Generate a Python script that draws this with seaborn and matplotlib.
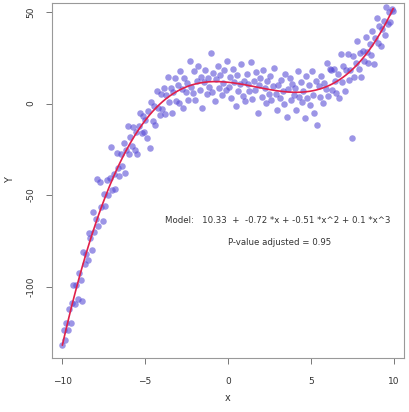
import matplotlib
matplotlib.use("Agg")
import matplotlib.pyplot as plt
import numpy as np
import pandas as pd
import seaborn as sns

# points (x, Y)
x_vals = [
    -9.98, -9.9, -9.83, -9.74, -9.66, -9.57, -9.47, -9.4, -9.31, -9.23, -9.14, -9.06,
    -8.97, -8.88, -8.8, -8.71, -8.62, -8.54, -8.46, -8.39, -8.3, -8.22, -8.13, -8.05,
    -7.97, -7.9, -7.81, -7.72, -7.64, -7.55, -7.47, -7.39, -7.3, -7.22, -7.13, -7.04,
    -6.97, -6.88, -6.8, -6.71, -6.62, -6.54, -6.46, -6.38, -6.29, -6.21, -6.12, -6.04,
    -5.96, -5.88, -5.79, -5.71, -5.62, -5.54, -5.47, -5.38, -5.3, -5.21, -5.12, -5.04,
    -4.97, -4.88, -4.8, -4.71, -4.62, -4.54, -4.46, -4.38, -4.29, -4.21, -4.12, -4.04,
    -3.96, -3.88, -3.79, -3.71, -3.62, -3.54, -3.46, -3.38, -3.29, -3.21, -3.12, -3.04,
    -2.96, -2.88, -2.79, -2.71, -2.62, -2.54, -2.46, -2.38, -2.29, -2.21, -2.12, -2.04,
    -1.96, -1.88, -1.79, -1.71, -1.62, -1.54, -1.46, -1.38, -1.29, -1.21, -1.12, -1.04,
    -0.96, -0.88, -0.79, -0.71, -0.62, -0.54, -0.46, -0.38, -0.29, -0.21, -0.12, -0.04,
    0.04, 0.12, 0.21, 0.29, 0.38, 0.46, 0.54, 0.62, 0.71, 0.79, 0.88, 0.96,
    1.04, 1.12, 1.21, 1.29, 1.38, 1.46, 1.54, 1.62, 1.71, 1.79, 1.88, 1.96,
    2.04, 2.12, 2.21, 2.29, 2.38, 2.46, 2.54, 2.62, 2.71, 2.79, 2.88, 2.96,
    3.04, 3.12, 3.21, 3.29, 3.38, 3.46, 3.54, 3.62, 3.71, 3.79, 3.88, 3.96,
    4.04, 4.12, 4.21, 4.29, 4.38, 4.46, 4.54, 4.62, 4.71, 4.79, 4.88, 4.96,
    5.04, 5.12, 5.21, 5.29, 5.38, 5.46, 5.54, 5.62, 5.71, 5.79, 5.88, 5.96,
    6.04, 6.12, 6.21, 6.29, 6.38, 6.46, 6.54, 6.62, 6.71, 6.79, 6.88, 6.96,
    7.04, 7.12, 7.21, 7.29, 7.38, 7.46, 7.54, 7.62, 7.71, 7.79, 7.88, 7.96,
    8.04, 8.12, 8.21, 8.29, 8.38, 8.46, 8.54, 8.62, 8.71, 8.79, 8.88, 8.96,
    9.04, 9.12, 9.21, 9.29, 9.38, 9.46, 9.54, 9.62, 9.71, 9.79, 9.88, 9.96,
]
y_vals = [
    -131.7, -123.7, -129.0, -119.6, -123.6, -112.2, -119.6, -109.2, -99.1, -109.3, -99.2, -106.5,
    -92.5, -96.6, -108.1, -81.3, -87.5, -82.1, -85.7, -70.7, -73.2, -79.9, -59.4, -70.2,
    -63.0, -41.2, -67.0, -42.7, -56.7, -64.4, -49.5, -55.7, -41.7, -49.9, -40.9, -23.8,
    -47.3, -38.5, -46.9, -27.2, -35.4, -39.8, -27.3, -33.9, -21.3, -37.9, -25.4, -12.0,
    -27.7, -18.5, -23.1, -12.9, -25.6, -15.4, -27.4, -12.2, -5.2, -16.0, -6.9, -15.8,
    -9.0, -19.0, -4.1, -24.2, 0.8, -9.3, -1.5, -11.8, 7.0, -2.3, -6.5, 5.3,
    -3.1, 8.5, -5.8, 4.8, 14.4, 1.0, 8.5, -5.0, 6.5, 14.0, 1.5, 10.0,
    0.4, 17.7, 8.1, -2.5, 13.9, 6.2, 11.5, 1.8, 23.0, 9.3, 5.6, 17.8,
    2.0, 12.2, 20.3, 7.5, 14.7, -2.2, 12.0, 18.1, 5.2, 14.2, 9.3, 27.4,
    6.5, 16.5, 1.5, 13.5, 20.6, 8.6, 15.6, 4.5, 11.5, 18.5, 7.4, 23.4,
    9.3, 14.3, 3.2, 19.1, 12.0, -1.1, 15.8, 6.7, 10.6, 21.5, 4.4, 12.3,
    1.2, 16.0, 10.9, 6.8, 22.6, 2.5, 12.4, 7.3, 17.1, -5.0, 9.9, 13.7,
    3.6, 18.5, 8.3, 0.2, 12.1, 5.0, 14.9, 1.8, 9.7, 19.6, 5.4, -3.7,
    10.3, 3.2, 13.1, 7.1, 0.0, 15.9, -7.2, 7.8, 13.8, 1.8, 10.7, 4.7,
    8.7, -3.3, 17.8, 3.8, 11.8, 0.9, 6.9, -8.0, 15.1, 3.2, 10.3, -0.6,
    17.6, 4.8, -5.1, 12.1, -11.7, 9.5, 3.7, 14.9, 0.3, 11.5, 7.9, 22.1,
    4.4, 18.8, 18.2, 7.6, 19.0, 12.4, 5.8, 16.3, 2.8, 27.3, 11.9, 20.4,
    6.9, 18.5, 27.2, 12.8, 18.5, -18.9, 25.8, 14.6, 22.4, 34.2, 19.0, 27.8,
    14.6, 28.5, 23.5, 36.4, 28.4, 22.3, 32.3, 26.4, 39.6, 21.6, 35.8, 46.9,
    33.1, 42.3, 31.7, 41.0, 45.3, 37.6, 52.9, 43.3, 49.9, 44.3, 51.9, 50.3,
]

x_ticks = [-10, -5, 0, 5, 10]
y_ticks = [-100, -50, 0, 50]
model_text = "Model:   10.33  +  -0.72 *x + -0.51 *x^2 + 0.1 *x^3"
stat_text = "P-value adjusted = 0.95"

df = pd.DataFrame({"x": x_vals, "Y": y_vals})

sns.set_style("white")
plt.rcParams["font.family"] = ["DejaVu Sans"]

fig = plt.figure(figsize=(4.1, 4.12), dpi=100)
ax = fig.add_axes([0.127, 0.131, 0.858, 0.862])

sns.regplot(data=df, x="x", y="Y", order=3, ci=None, ax=ax,
            scatter_kws={"s": 22, "color": "#5a4ed6", "alpha": 0.6, "linewidths": 0},
            line_kws={"color": "#e0204a", "lw": 1.2})

ax.set_xlim(-10.6, 10.6)
ax.set_ylim(-139, 55)
ax.set_xticks(x_ticks)
ax.set_yticks(y_ticks)
ax.set_yticklabels([str(v) for v in y_ticks], rotation=90, va="center")
ax.tick_params(axis="both", direction="out", length=4, width=0.7, colors="#777777",
               labelsize=6.5, labelcolor="#333333", left=True, bottom=True)
ax.tick_params(axis="x", pad=10)
ax.tick_params(axis="y", pad=8)
for s in ax.spines.values():
    s.set_color("#999999")
    s.set_linewidth(0.8)

ax.set_xlabel("x", fontsize=7, color="#333333", labelpad=5)
ax.set_ylabel("Y", fontsize=7, color="#333333", labelpad=8)

ax.text(3.0, -64, model_text, ha="center", va="center", fontsize=6.2, color="#333333")
ax.text(3.1, -76, stat_text, ha="center", va="center", fontsize=6.2, color="#333333")

fig.savefig("out.png", dpi=100)
